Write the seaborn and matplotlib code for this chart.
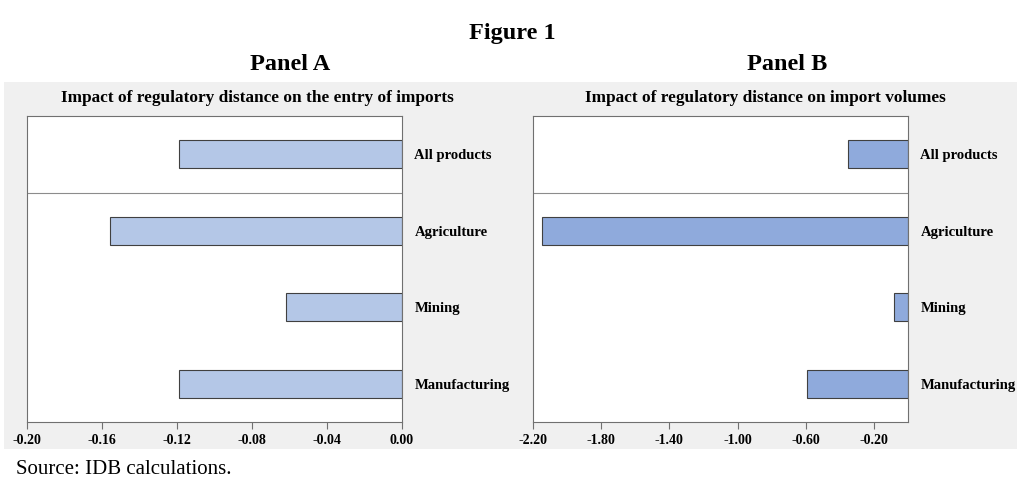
import pandas as pd
import seaborn as sns
import matplotlib
matplotlib.use('Agg')
import matplotlib.pyplot as plt
from matplotlib.patches import Rectangle

categories = ['All products', 'Agriculture', 'Mining', 'Manufacturing']
entry_values = [-0.119, -0.156, -0.062, -0.119]
volume_values = [-0.35, -2.15, -0.08, -0.59]
entry_ticks = [-0.20, -0.16, -0.12, -0.08, -0.04, 0.00]
volume_ticks = [-2.20, -1.80, -1.40, -1.00, -0.60, -0.20]

sns.set_style('white')
plt.rcParams['font.family'] = ['Liberation Serif', 'DejaVu Serif']
plt.rcParams['text.color'] = 'black'
plt.rcParams['xtick.color'] = 'black'
plt.rcParams['ytick.color'] = 'black'

W, H = 1024, 491
fig = plt.figure(figsize=(W / 100, H / 100), dpi=100)
fig.patch.set_facecolor('white')

def px(x, y, w, h):
    return [x / W, 1 - (y + h) / H, w / W, h / H]

# grey panel backgrounds
for x0, x1 in [(4, 512), (512, 1017)]:
    fig.patches.append(Rectangle((x0 / W, 1 - 449 / H), (x1 - x0) / W, (449 - 82) / H,
                                 transform=fig.transFigure, facecolor='#f0f0f0',
                                 edgecolor='none', zorder=-5))

fig.text(512 / W, 1 - 33 / H, 'Figure 1', ha='center', va='center', fontsize=17.5, fontweight='bold')
fig.text(290 / W, 1 - 65 / H, 'Panel A', ha='center', va='center', fontsize=17.5, fontweight='bold')
fig.text(787 / W, 1 - 65 / H, 'Panel B', ha='center', va='center', fontsize=17.5, fontweight='bold')
fig.text(257 / W, 1 - 98 / H, 'Impact of regulatory distance on the entry of imports',
         ha='center', va='center', fontsize=12.4, fontweight='bold')
fig.text(765 / W, 1 - 98 / H, 'Impact of regulatory distance on import volumes',
         ha='center', va='center', fontsize=12.4, fontweight='bold')
fig.text(16 / W, 1 - 470 / H, 'Source: IDB calculations.', ha='left', va='center', fontsize=15)

panels = [
    (27, entry_values, entry_ticks, (-0.20, 0.0), '#b4c7e7', '{:.2f}'),
    (533, volume_values, volume_ticks, (-2.20, 0.0), '#8faadc', '{:.2f}'),
]

for x0, vals, ticks, xlim, color, fmt in panels:
    ax = fig.add_axes(px(x0, 116, 375, 306))
    ax.set_zorder(2)
    df = pd.DataFrame({'category': categories, 'value': vals})
    sns.barplot(data=df, x='value', y='category', orient='h', color=color, saturation=1,
                width=0.37, edgecolor='#404040', linewidth=0.8, ax=ax)
    ax.set_xlim(*xlim)
    ax.set_ylim(3.5, -0.5)
    ax.axhline(0.5, color='#8c8c8c', linewidth=0.8)
    ax.set_xticks(ticks)
    ax.set_xticklabels([fmt.format(t) for t in ticks], fontsize=10, fontweight='bold')
    ax.yaxis.tick_right()
    ax.tick_params(axis='y', length=0, pad=9, labelsize=10.5)
    for lab in ax.get_yticklabels():
        lab.set_fontweight('bold')
    ax.tick_params(axis='x', bottom=True, length=5, width=0.8, color='#707070',
                   direction='out', pad=4)
    ax.set_xlabel('')
    ax.set_ylabel('')
    for sp in ax.spines.values():
        sp.set_color('#707070')
        sp.set_linewidth(0.8)
    ax.set_facecolor('white')

fig.savefig('out.png', dpi=100)
